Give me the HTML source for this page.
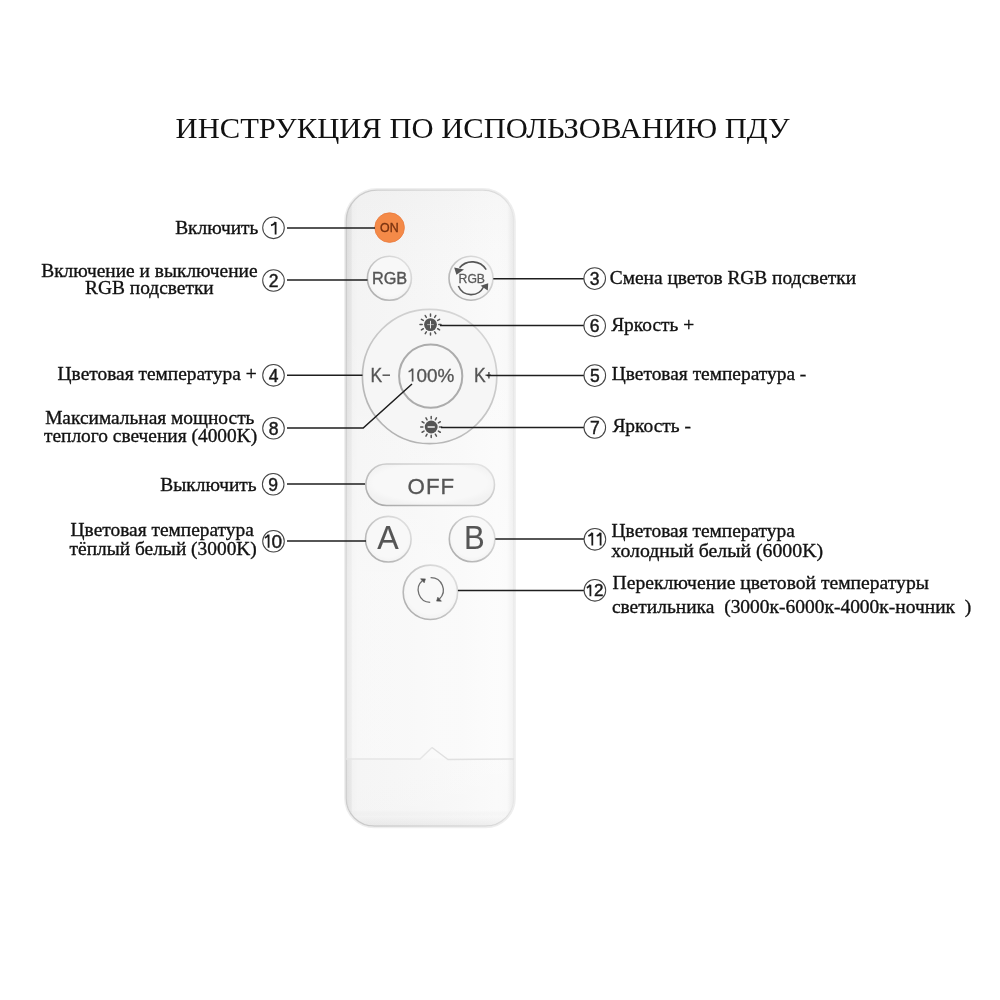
<!DOCTYPE html>
<html><head><meta charset="utf-8">
<style>
html,body{margin:0;padding:0;background:#fff;}
body{width:1000px;height:1000px;position:relative;overflow:hidden;font-family:"Liberation Serif",serif;}
svg{position:absolute;left:0;top:0;will-change:transform;}
.lb{font-family:"Liberation Serif",serif;font-size:19.4px;fill:#111;stroke:#111;stroke-width:0.35px;}
.sn{font-family:"Liberation Sans",sans-serif;}
</style></head><body>
<svg width="1000" height="1000" viewBox="0 0 1000 1000">
  <defs>
    <linearGradient id="rg" x1="0" x2="1" y1="0" y2="0">
      <stop offset="0" stop-color="#d8d8d8"/>
      <stop offset="0.008" stop-color="#e0e0e0"/>
      <stop offset="0.03" stop-color="#e7e7e7"/>
      <stop offset="0.037" stop-color="#f1f1f1"/>
      <stop offset="0.07" stop-color="#f4f4f4"/>
      <stop offset="0.3" stop-color="#f5f5f5"/>
      <stop offset="0.7" stop-color="#f8f8f8"/>
      <stop offset="0.9" stop-color="#fafafa"/>
      <stop offset="0.96" stop-color="#f9f9f9"/>
      <stop offset="0.985" stop-color="#efefef"/>
      <stop offset="1" stop-color="#ebebeb"/>
    </linearGradient>
    <linearGradient id="rs" x1="0" x2="1" y1="0" y2="0">
      <stop offset="0" stop-color="#cacaca"/>
      <stop offset="0.5" stop-color="#d6d6d6"/>
      <stop offset="0.9" stop-color="#dcdcdc"/>
      <stop offset="1" stop-color="#e6e6e6"/>
    </linearGradient>
    <linearGradient id="ring" x1="0" y1="1" x2="1" y2="0">
      <stop offset="0" stop-color="#a8a8a8"/>
      <stop offset="0.45" stop-color="#c4c4c4"/>
      <stop offset="1" stop-color="#e6e6e6"/>
    </linearGradient>
    <linearGradient id="ring2" x1="0.2" y1="1" x2="0.8" y2="0">
      <stop offset="0" stop-color="#b0b0b0"/>
      <stop offset="0.5" stop-color="#c6c6c6"/>
      <stop offset="1" stop-color="#d8d8d8"/>
    </linearGradient>
    <radialGradient id="btn" cx="0.5" cy="0.45" r="0.55">
      <stop offset="0.8" stop-color="#f8f8f8"/>
      <stop offset="1" stop-color="#f2f2f2"/>
    </radialGradient>
    <linearGradient id="vg" x1="0" y1="190" x2="0" y2="826" gradientUnits="userSpaceOnUse">
      <stop offset="0" stop-color="#000" stop-opacity="0.015"/>
      <stop offset="0.2" stop-color="#fff" stop-opacity="0"/>
      <stop offset="0.6" stop-color="#fff" stop-opacity="0.35"/>
      <stop offset="0.893" stop-color="#fff" stop-opacity="0.35"/>
      <stop offset="0.8945" stop-color="#fff" stop-opacity="0.12"/>
      <stop offset="0.975" stop-color="#fff" stop-opacity="0.05"/>
      <stop offset="0.985" stop-color="#000" stop-opacity="0.01"/>
      <stop offset="1" stop-color="#000" stop-opacity="0.05"/>
    </linearGradient>
    <clipPath id="bodyclip"><path d="M377.2,190.2 L482.7,190.2 A31,31 0 0 1 513.7,221.2 L513.7,798.2 A28,28 0 0 1 485.7,826.2 L374.2,826.2 A28,28 0 0 1 346.2,798.2 L346.2,221.2 A31,31 0 0 1 377.2,190.2 Z"/></clipPath>
  </defs>

  <!-- title -->
  <text transform="translate(175.6,138.3) scale(1,0.955)" font-family="Liberation Serif" font-size="30.6" fill="#111">ИНСТРУКЦИЯ ПО ИСПОЛЬЗОВАНИЮ ПДУ</text>

  <!-- remote body -->
  <path d="M377.3,188.9 L482.6,188.9 A32.4,32.4 0 0 1 515.0,221.3 L515.0,798.2 A29.3,29.3 0 0 1 485.7,827.5 L374.2,827.5 A29.3,29.3 0 0 1 344.9,798.2 L344.9,221.3 A32.4,32.4 0 0 1 377.3,188.9 Z" fill="none" stroke="#eeeeee" stroke-width="1.6"/>
  <path d="M377.2,190.2 L482.7,190.2 A31,31 0 0 1 513.7,221.2 L513.7,798.2 A28,28 0 0 1 485.7,826.2 L374.2,826.2 A28,28 0 0 1 346.2,798.2 L346.2,221.2 A31,31 0 0 1 377.2,190.2 Z" fill="url(#rg)" stroke="url(#rs)" stroke-width="1.3"/>
  <rect x="346" y="190" width="168" height="637" fill="url(#vg)" clip-path="url(#bodyclip)"/>
  <!-- seam -->
  <path d="M346,759 L420,759 L432,747.5" fill="none" stroke="#e6e6e6" stroke-width="1.4"/>
  <path d="M432,747.5 L448,759.5 L514,759" fill="none" stroke="#e0e0e0" stroke-width="1.4"/>

  <!-- ON -->
  <circle cx="389.6" cy="227.6" r="14.8" fill="#f48a48" stroke="#ea7a3c" stroke-width="0.8"/>
  <text x="389.4" y="232.2" class="sn" font-size="12.4" fill="#7a3310" stroke="#7a3310" stroke-width="0.35" text-anchor="middle">ON</text>

  <!-- RGB left -->
  <circle cx="389.4" cy="278.3" r="22" fill="url(#btn)" stroke="url(#ring)" stroke-width="1.6"/>
  <text x="389.6" y="284" class="sn" font-size="16.3" fill="#555" stroke="#555" stroke-width="0.35" text-anchor="middle">RGB</text>

  <!-- RGB right (cycle) -->
  <circle cx="471" cy="278.2" r="22" fill="url(#btn)" stroke="url(#ring)" stroke-width="1.6"/>
  <text x="471.8" y="282.8" class="sn" font-size="12.2" fill="#5a5a5a" stroke="#5a5a5a" stroke-width="0.3" text-anchor="middle">RGB</text>
  <path d="M486.2,269.6 A16.5,16.5 0 0 0 459.5,267.8" fill="none" stroke="#555" stroke-width="1.6"/>
  <path d="M454.2,267.4 L464,269.4 L456.4,274.8 Z" fill="#555"/>
  <path d="M458.4,286 A13.8,13.8 0 0 0 483.5,287" fill="none" stroke="#555" stroke-width="1.6"/>
  <path d="M488.2,283.2 L480.6,285.8 L487.8,290.4 Z" fill="#555"/>

  <!-- big circle -->
  <circle cx="429.6" cy="376.5" r="67.2" fill="#f6f6f6" stroke="url(#ring2)" stroke-width="1.7"/>
  <circle cx="430.7" cy="376.1" r="31.6" fill="#f7f7f7" stroke="#acacac" stroke-width="2"/>
  <path d="M412.6,368.6 V381.4 M412.6,368.6 C411.6,370.4 410.2,371.3 408.6,371.8" fill="none" stroke="#555" stroke-width="1.7"/>
  <text transform="translate(416.5,381.8)" class="sn" font-size="18.9" fill="#555" stroke="#555" stroke-width="0.3">00%</text>
  <text transform="translate(370.5,382) scale(1,1.12)" class="sn" font-size="17.5" fill="#555" stroke="#555" stroke-width="0.3">K</text>
  <path d="M382.5,375.2 H390" stroke="#555" stroke-width="1.5"/>
  <text transform="translate(474,382) scale(1,1.12)" class="sn" font-size="17.5" fill="#555" stroke="#555" stroke-width="0.3">K</text>
  <path d="M485.5,375.3 H491 M488.9,372 V378.6" stroke="#555" stroke-width="1.5"/>

  <!-- brightness + -->
  <g transform="translate(430.5,324.6)">
    <circle r="6.4" fill="#555"/>
    <path d="M-3.4,0 H3.4" stroke="#aaa" stroke-width="1"/><path d="M0,-3.8 V3.8" stroke="#eee" stroke-width="1"/>
    <g stroke="#555" stroke-width="1.5" stroke-linecap="round">
      <path d="M0,-8.3 V-10.5 M0,8.3 V10.5 M-8.3,0 H-10.5 M8.3,0 H10.5
               M4.15,-7.19 L5.25,-9.09 M-4.15,-7.19 L-5.25,-9.09 M4.15,7.19 L5.25,9.09 M-4.15,7.19 L-5.25,9.09
               M7.19,-4.15 L9.09,-5.25 M-7.19,-4.15 L-9.09,-5.25 M7.19,4.15 L9.09,5.25 M-7.19,4.15 L-9.09,5.25"/>
    </g>
  </g>
  <!-- brightness - -->
  <g transform="translate(431.2,427)">
    <circle r="6.4" fill="#555"/>
    <path d="M-3.6,0 H3.6" stroke="#e8e8e8" stroke-width="1.6"/>
    <g stroke="#555" stroke-width="1.5" stroke-linecap="round">
      <path d="M0,-8.3 V-10.5 M0,8.3 V10.5 M-8.3,0 H-10.5 M8.3,0 H10.5
               M4.15,-7.19 L5.25,-9.09 M-4.15,-7.19 L-5.25,-9.09 M4.15,7.19 L5.25,9.09 M-4.15,7.19 L-5.25,9.09
               M7.19,-4.15 L9.09,-5.25 M-7.19,-4.15 L-9.09,-5.25 M7.19,4.15 L9.09,5.25 M-7.19,4.15 L-9.09,5.25"/>
    </g>
  </g>

  <!-- OFF -->
  <rect x="365.8" y="464" width="128.7" height="41.5" rx="20.75" fill="url(#btn)" stroke="url(#ring)" stroke-width="1.6"/>
  <text x="431.4" y="494" class="sn" font-size="22.3" fill="#555" stroke="#555" stroke-width="0.3" text-anchor="middle" letter-spacing="1">OFF</text>

  <!-- A B -->
  <circle cx="388.3" cy="539.2" r="22.8" fill="url(#btn)" stroke="url(#ring)" stroke-width="1.6"/>
  <text transform="translate(388.1,548.8) scale(1,1.06)" class="sn" font-size="32.2" fill="#555" stroke="#555" stroke-width="0.1" text-anchor="middle">A</text>
  <circle cx="472.1" cy="539" r="22.8" fill="url(#btn)" stroke="url(#ring)" stroke-width="1.6"/>
  <text transform="translate(474.4,548.5) scale(1,1.07)" class="sn" font-size="31" fill="#555" stroke="#555" stroke-width="0.1" text-anchor="middle">B</text>

  <!-- cycle -->
  <circle cx="430.4" cy="592.3" r="27.2" fill="url(#btn)" stroke="url(#ring)" stroke-width="1.6"/>
  <g fill="none" stroke="#6e6e6e" stroke-width="1.3">
    <path d="M422.5,580.6 A12.4,12.4 0 0 0 430.2,602.4"/>
    <path d="M430.6,577.6 A12.4,12.4 0 0 1 439.4,599"/>
  </g>
  <path d="M420.6,578.8 L425.4,578.9 L424.2,582.8 Z" fill="#505050" stroke="#505050" stroke-width="0.6"/>
  <path d="M441.4,601.2 L436.6,601.1 L437.8,597.2 Z" fill="#505050" stroke="#505050" stroke-width="0.6"/>

  <!-- callout lines -->
  <g stroke="#1e1e1e" stroke-width="1.5" fill="none">
    <path d="M287,228 H375"/>
    <path d="M287,280.1 H367.5"/>
    <path d="M287,375.3 H362.5"/>
    <path d="M287,428 H363.2 L412,384"/>
    <path d="M287,484 H365"/>
    <path d="M287,541 H366"/>
    <path d="M493.3,278.7 H584"/>
    <path d="M440,325.4 H584"/>
    <path d="M487,375.4 H584"/>
    <path d="M441,427.4 H584"/>
    <path d="M495.3,538.9 H584"/>
    <path d="M457.9,590.4 H584"/>
  </g>
  <!-- callout circles -->
  <g stroke="#444" stroke-width="1.05" fill="#fff">
    <circle cx="273.5" cy="227.8" r="10.8"/>
    <circle cx="273.5" cy="280.5" r="10.8"/>
    <circle cx="273.5" cy="375.3" r="10.8"/>
    <circle cx="273.5" cy="428.2" r="10.8"/>
    <circle cx="273.2" cy="484.2" r="10.8"/>
    <circle cx="273.5" cy="541.2" r="10.8"/>
    <circle cx="594.7" cy="278.6" r="10.8"/>
    <circle cx="594.7" cy="325.8" r="10.8"/>
    <circle cx="594.8" cy="375.6" r="10.8"/>
    <circle cx="594.8" cy="427.5" r="10.8"/>
    <circle cx="594.9" cy="539.3" r="10.8"/>
    <circle cx="594.9" cy="590.3" r="10.8"/>
  </g>
  <g class="sn" font-size="17.5" fill="#1a1a1a" stroke="#1a1a1a" stroke-width="0.45" text-anchor="middle">
    
    <text x="273.5" y="286.8">2</text>
    <text x="273.5" y="381.5">4</text>
    <text x="273.5" y="434.5">8</text>
    <text x="273.2" y="490.5">9</text>
    <text x="276.9" y="547.8" font-size="19">0</text>
    <text x="594.7" y="284.9">3</text>
    <text x="594.7" y="332.1">6</text>
    <text x="594.8" y="381.9">5</text>
    <text x="594.8" y="433.8">7</text>
    
    <text x="598.8" y="596.4" font-size="17">2</text>
  </g>

  <g fill="none" stroke="#1a1a1a" stroke-width="1.8">
    <path d="M275.6,222 V234.4 M275.6,222 C274.6,223.8 273.1,224.9 271,225.4"/>
    <path d="M268.6,534.6 V547.8 M268.6,534.6 C267.6,536.4 266.3,537.3 264.8,537.8"/>
    <path d="M592.3,532.8 V545.6 M592.3,532.8 C591.3,534.6 590,535.5 588.3,536"/>
    <path d="M600.6,532.8 V545.6 M600.6,532.8 C599.6,534.6 598.3,535.5 596.7,536"/>
    <path d="M590.4,584.8 V596.3 M590.4,584.8 C589.4,586.5 588.2,587.3 586.8,587.8"/>
  </g>
  <!-- left labels -->
  <g class="lb">
    <text x="258.4" y="234.1" text-anchor="end">Включить</text>
    <text x="149.4" y="276.5" text-anchor="middle">Включение и выключение</text>
    <text x="149.4" y="294.2" text-anchor="middle">RGB подсветки</text>
    <text x="256.6" y="379.6" text-anchor="end">Цветовая температура +</text>
    <text x="149.8" y="423.5" text-anchor="middle">Максимальная мощность</text>
    <text x="150.6" y="441.5" text-anchor="middle">теплого свечения (4000K)</text>
    <text x="256.6" y="490.7" text-anchor="end">Выключить</text>
    <text x="162.2" y="536.2" text-anchor="middle">Цветовая температура</text>
    <text x="163.2" y="555.2" text-anchor="middle">тёплый белый (3000K)</text>
  </g>
  <!-- right labels -->
  <g class="lb">
    <text x="609.8" y="283.8">Смена цветов RGB подсветки</text>
    <text x="611.2" y="331.4">Яркость +</text>
    <text x="611.8" y="380.4">Цветовая температура -</text>
    <text x="612.4" y="431.6">Яркость -</text>
    <text x="611.6" y="536.5">Цветовая температура</text>
    <text x="611.3" y="557" font-size="19.8">холодный белый (6000K)</text>
    <text x="612.6" y="588.6" font-size="19.6">Переключение цветовой температуры</text>
    <text x="611.9" y="612.6" font-size="19.48" xml:space="preserve">светильника  (3000к-6000к-4000к-ночник  )</text>
  </g>
</svg>
</body></html>
